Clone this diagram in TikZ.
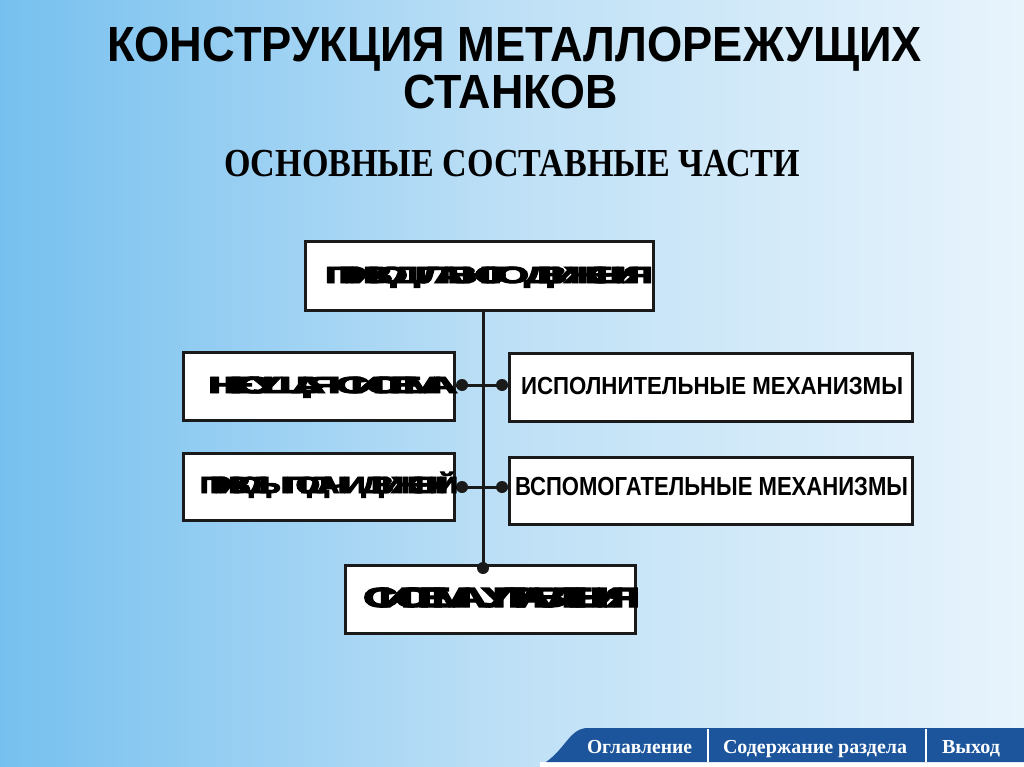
\documentclass[tikz,border=0pt]{standalone}
\usepackage{fontspec}
\setmainfont{Liberation Sans}
\newfontfamily\seriffont{Liberation Serif}
\newfontfamily\smearfont{Liberation Sans}[LetterSpace=-40, FakeBold=4]
\usepackage{graphicx}
\newcommand\fitcap[3]{\resizebox{#1pt}{#2pt}{\raisebox{0pt}[\fontcharht\font`H][0pt]{#3}}}
\definecolor{bgleft}{HTML}{76C0EF}
\definecolor{bgmid}{HTML}{BEE0F6}
\definecolor{bgright}{HTML}{E8F4FC}
\definecolor{barblue}{HTML}{1C559C}
\definecolor{lineblk}{HTML}{1A1A1A}
\tikzset{
  txt/.style={inner sep=0pt, outer sep=0pt, anchor=south west},
  boxnode/.style={draw=lineblk, line width=3pt, fill=white, inner sep=0pt},
  conn/.style={draw=lineblk, line width=3pt},
  dotmark/.style={fill=lineblk},
}
\begin{document}
\begin{tikzpicture}[x=1pt,y=-1pt]
\useasboundingbox (0,0) rectangle (1024,767);
% background
\shade[left color=bgleft, right color=bgright, middle color=bgmid] (0,0) rectangle (1024,767);

% titles
\node[txt, font=\bfseries] (t1) at (107,62) {\fitcap{815}{34}{КОНСТРУКЦИЯ МЕТАЛЛОРЕЖУЩИХ}};
\node[txt, font=\bfseries] (t2) at (403,109) {\fitcap{215}{33}{СТАНКОВ}};
\node[txt, font=\seriffont\bfseries] (t3) at (224,177) {\fitcap{576}{26}{ОСНОВНЫЕ СОСТАВНЫЕ ЧАСТИ}};

% boxes
\node[boxnode, minimum width=348pt, minimum height=69pt] (top) at (479.5,276) {};
\node[boxnode, minimum width=271pt, minimum height=68pt] (l1) at (319,386.5) {};
\node[boxnode, minimum width=403pt, minimum height=68pt] (r1) at (711,387.5) {};
\node[boxnode, minimum width=271pt, minimum height=67pt] (l2) at (319,487) {};
\node[boxnode, minimum width=403pt, minimum height=67pt] (r2) at (711,490.5) {};
\node[boxnode, minimum width=290pt, minimum height=68pt] (bot) at (490.5,599.5) {};

% connectors
\coordinate (vx) at (483,0);
\coordinate (h1) at (483,385);
\coordinate (h2) at (483,487);
\draw[conn] (top.south -| vx) -- ([yshift=-2pt]bot.north -| vx);
\draw[conn] (l1.east |- h1) -- (r1.west |- h1);
\draw[conn] (l2.east |- h2) -- (r2.west |- h2);
\fill[dotmark] ([xshift=6pt]l1.east |- h1) circle (6pt);
\fill[dotmark] ([xshift=-6pt]r1.west |- h1) circle (6pt);
\fill[dotmark] ([xshift=6pt]l2.east |- h2) circle (6pt);
\fill[dotmark] ([xshift=-6pt]r2.west |- h2) circle (6pt);
\fill[dotmark] ([yshift=-4pt]bot.north -| vx) circle (6pt);

% box texts
\node[txt, font=\smearfont\bfseries] (s1) at (325,283) {\fitcap{328}{16}{ПРИВОД ГЛАВНОГО ДВИЖЕНИЯ}};
\node[txt, font=\smearfont\bfseries] (s2) at (208,393) {\fitcap{250}{16}{НЕСУЩАЯ СИСТЕМА}};
\node[txt, font=\smearfont\bfseries] (s3) at (200,493) {\fitcap{258}{16}{ПРИВОДЫ ПОДАЧ И ДВИЖЕНИЙ}};
\node[txt, font=\smearfont\bfseries] (s4) at (363,607) {\fitcap{277}{19}{СИСТЕМА УПРАВЛЕНИЯ}};
\node[txt, font=\bfseries] (x1) at (521,394) {\fitcap{382}{17}{ИСПОЛНИТЕЛЬНЫЕ МЕХАНИЗМЫ}};
\node[txt, font=\bfseries] (x2) at (515,495) {\fitcap{393}{18}{ВСПОМОГАТЕЛЬНЫЕ МЕХАНИЗМЫ}};

% footer
\fill[white] (540,762) rectangle (1024,767);
\fill[barblue] (1024,728) -- (588,728) .. controls (570,728) and (566,748) .. (546,762) -- (1024,762) -- cycle;
\draw[white, line width=2pt] (708,729) -- (708,762);
\draw[white, line width=2pt] (926,729) -- (926,762);
\node[txt, font=\seriffont\bfseries, text=white] (f1) at (587,753) {\fitcap{105}{13}{Оглавление}};
\node[txt, font=\seriffont\bfseries, text=white] (f2) at (723,753) {\fitcap{184}{13}{Содержание раздела}};
\node[txt, font=\seriffont\bfseries, text=white] (f3) at (942,753) {\fitcap{58}{13}{Выход}};
\end{tikzpicture}
\end{document}
